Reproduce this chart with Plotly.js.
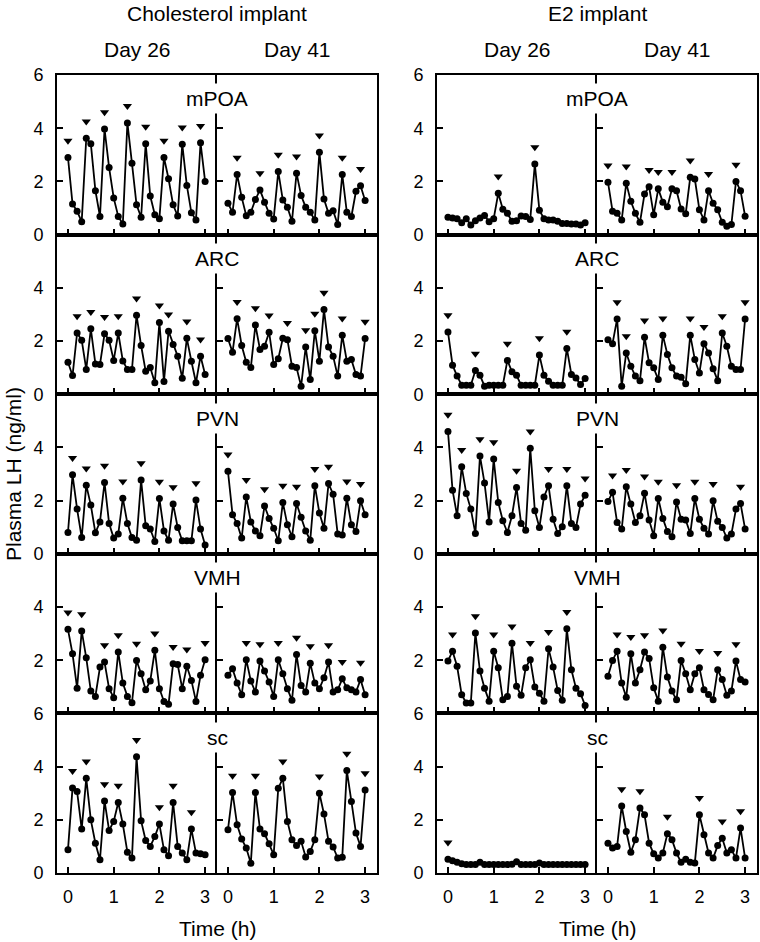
<!DOCTYPE html>
<html><head><meta charset="utf-8">
<script src="https://cdn.plot.ly/plotly-3.0.1.min.js"></script>
<style>html,body{margin:0;padding:0;background:#fff}#chart{width:760px;height:942px}</style>
</head><body><div id="chart"></div>
<script>
// ---- data ----
const TIME_H = [0,0.1,0.2,0.3,0.4,0.5,0.6,0.7,0.8,0.9,1,1.1,1.2,1.3,1.4,1.5,1.6,1.7,1.8,1.9,2,2.1,2.2,2.3,2.4,2.5,2.6,2.7,2.8,2.9,3];
const REGIONS = ["mPOA","ARC","PVN","VMH","sc"];
const GROUPS = ["Cholesterol implant","E2 implant"];
const DAYS = ["Day 26","Day 41"];
const X_TICKS = [0,1,2,3];
const Y_TICKS_BY_ROW = [[0,2,4,6],[0,2,4],[0,2,4],[2,4],[0,2,4,6]];

// Cholesterol implant
const chol26_mPOA = [2.9,1.15,0.88,0.48,3.62,3.42,1.65,0.68,3.97,2.52,1.38,0.68,0.4,4.2,2.68,1.12,0.65,3.42,1.45,0.75,0.6,2.9,2.1,1.12,0.7,3.4,1.85,0.82,0.55,3.45,2.0];
const chol26_mPOA_pulse = [0,4,8,13,17,21,25,29];
const chol41_mPOA = [1.18,0.84,2.26,1.4,0.71,0.84,1.32,1.68,1.22,0.8,0.59,2.37,1.3,1.03,0.5,2.31,1.47,1.03,0.84,0.55,3.1,1.34,0.8,0.9,0.38,2.26,0.84,0.68,1.63,1.84,1.28];
const chol41_mPOA_pulse = [2,7,11,15,20,25,29];
const chol26_ARC = [1.2,0.7,2.3,2.03,0.93,2.46,1.14,1.12,2.27,2.03,1.27,2.3,1.25,0.93,0.93,2.97,1.83,0.86,1.0,0.43,2.7,0.48,2.37,1.87,1.43,0.6,2.1,1.24,0.43,1.43,0.74];
const chol26_ARC_pulse = [2,5,8,11,15,20,22,26,29];
const chol41_ARC = [2.09,1.58,2.84,1.83,1.2,1.0,2.6,1.68,1.8,2.33,1.12,1.33,2.1,2.05,1.05,1.0,0.3,1.77,0.55,2.39,1.24,3.18,1.77,1.43,0.68,2.22,1.24,1.3,0.74,0.68,2.09];
const chol41_ARC_pulse = [2,6,9,13,17,19,21,25,30];
const chol26_PVN = [0.8,2.97,1.68,0.61,2.58,1.83,0.79,1.2,2.68,1.14,0.59,0.74,2.09,1.14,0.61,0.51,2.77,1.05,0.93,0.46,2.08,0.86,0.51,1.87,0.99,0.49,0.49,0.49,2.02,0.93,0.33];
const chol26_PVN_pulse = [1,4,8,12,16,20,23,28];
const chol41_PVN = [3.1,1.47,1.14,0.59,2.14,1.2,0.86,0.68,1.8,1.33,0.96,0.49,1.93,1.09,0.64,1.89,1.37,0.86,0.51,2.56,1.53,0.96,2.64,2.24,0.74,0.71,2.09,1.09,0.84,1.99,1.47];
const chol41_PVN_pulse = [0,4,8,12,15,19,22,26,29];
const chol26_VMH = [3.16,2.24,0.95,3.1,2.09,0.84,0.64,1.74,1.93,0.93,0.59,2.31,1.14,0.64,0.4,1.99,1.49,0.89,1.22,2.37,0.93,0.45,0.34,1.87,1.84,0.93,1.77,1.24,0.45,1.43,2.02];
const chol26_VMH_pulse = [0,3,8,11,15,19,23,26,30];
const chol41_VMH = [1.43,1.68,1.14,0.7,2.02,1.22,0.8,1.97,1.59,1.18,0.64,2.02,1.49,0.93,0.49,2.21,1.05,0.8,1.89,1.14,0.93,1.34,1.93,0.8,0.89,1.3,0.96,0.89,0.8,1.27,0.7];
const chol41_VMH_pulse = [4,7,11,15,18,22,25,29];
const chol26_sc = [0.87,3.2,3.06,1.65,3.56,2.0,1.12,0.5,2.71,1.6,1.94,2.65,1.84,0.78,0.56,4.37,1.96,1.22,1.0,1.37,1.84,0.87,0.65,2.65,1.0,0.75,0.5,1.65,0.75,0.72,0.69];
const chol26_sc_pulse = [1,4,8,11,15,20,23,27];
const chol41_sc = [1.63,3.03,1.81,1.28,0.94,0.37,3.03,1.65,1.48,1.1,0.69,3.19,3.56,1.94,1.25,1.03,1.19,0.6,0.81,1.25,3.0,2.22,1.19,0.98,0.56,0.59,3.85,2.69,1.5,1.0,3.12];
const chol41_sc_pulse = [1,6,12,20,26,30];

// E2 implant
const e226_mPOA = [0.65,0.62,0.6,0.45,0.6,0.36,0.52,0.62,0.72,0.48,0.6,1.55,0.95,0.8,0.5,0.52,0.7,0.68,0.57,2.65,0.92,0.6,0.55,0.55,0.5,0.42,0.42,0.4,0.4,0.36,0.45];
const e226_mPOA_pulse = [11,19];
const e241_mPOA = [1.97,0.88,0.8,0.55,1.93,1.25,0.8,0.46,1.53,1.8,0.75,1.72,1.22,1.05,1.72,1.65,0.96,0.78,2.16,2.09,0.93,0.55,1.65,1.18,0.93,0.46,0.31,0.38,2.0,1.65,0.69];
const e241_mPOA_pulse = [0,4,9,11,14,18,22,28];
const e226_ARC = [2.34,1.09,0.68,0.34,0.34,0.34,0.89,0.71,0.3,0.34,0.34,0.34,0.34,1.27,0.84,0.71,0.34,0.34,0.34,0.34,1.47,0.71,0.49,0.34,0.34,0.34,1.72,0.74,0.61,0.36,0.59];
const e226_ARC_pulse = [0,6,13,20,26];
const e241_ARC = [2.05,1.9,2.83,0.3,1.55,1.05,0.68,0.51,2.14,1.18,0.99,0.55,2.22,1.49,0.99,0.68,0.64,0.39,2.22,1.3,0.8,1.9,1.55,0.96,0.51,2.3,1.8,1.05,0.93,0.93,2.83];
const e241_ARC_pulse = [2,4,8,12,18,21,25,30];
const e226_PVN = [4.6,2.39,1.43,3.27,2.27,1.68,0.76,3.68,2.66,1.2,3.56,1.93,1.24,0.8,1.43,2.49,1.14,0.89,3.97,1.62,0.99,2.14,2.56,1.3,0.76,1.02,2.56,1.14,0.99,1.87,2.2];
const e226_PVN_pulse = [0,3,7,10,15,18,22,26,30];
const e241_PVN = [1.97,2.31,1.18,0.93,2.52,1.87,1.18,1.43,2.28,1.27,0.68,2.08,1.33,0.84,0.64,1.95,1.3,1.27,0.76,2.08,1.3,0.96,0.74,1.99,1.22,0.99,0.59,0.74,1.68,1.89,0.93];
const e241_PVN_pulse = [1,4,8,11,15,19,23,29];
const e226_VMH = [1.97,2.34,1.77,0.7,0.39,0.39,3.02,1.59,0.95,0.46,2.34,1.72,0.51,0.64,2.64,1.02,0.68,1.72,2.02,0.99,0.76,0.46,2.43,1.74,0.86,0.49,3.18,1.64,0.95,0.74,0.3];
const e226_VMH_pulse = [1,6,10,14,18,22,26];
const e241_VMH = [1.4,1.99,2.34,1.14,0.61,2.24,1.14,1.64,2.31,2.06,0.96,0.46,2.49,1.37,0.84,0.51,1.99,1.49,0.89,1.49,1.72,0.89,0.71,0.51,1.64,1.27,0.68,0.84,1.97,1.27,1.18];
const e241_VMH_pulse = [2,5,8,12,16,20,24,28];
const e226_sc = [0.52,0.46,0.4,0.35,0.32,0.32,0.32,0.4,0.32,0.32,0.32,0.32,0.32,0.32,0.33,0.42,0.32,0.32,0.32,0.32,0.38,0.32,0.32,0.32,0.32,0.32,0.32,0.32,0.32,0.32,0.32];
const e226_sc_pulse = [0];
const e241_sc = [1.12,0.94,1.0,2.52,1.56,0.78,1.25,2.44,2.19,1.12,0.72,0.56,0.75,1.48,1.25,0.75,0.4,0.52,0.4,0.38,2.19,1.44,0.75,0.56,1.03,1.31,0.75,0.87,0.56,1.69,0.56];
const e241_sc_pulse = [3,7,13,20,25,29];

// rows = regions, columns = Chol D26, Chol D41, E2 D26, E2 D41
const SERIES = [
  [chol26_mPOA, chol41_mPOA, e226_mPOA, e241_mPOA],
  [chol26_ARC, chol41_ARC, e226_ARC, e241_ARC],
  [chol26_PVN, chol41_PVN, e226_PVN, e241_PVN],
  [chol26_VMH, chol41_VMH, e226_VMH, e241_VMH],
  [chol26_sc, chol41_sc, e226_sc, e241_sc]
];
const PULSES = [
  [chol26_mPOA_pulse, chol41_mPOA_pulse, e226_mPOA_pulse, e241_mPOA_pulse],
  [chol26_ARC_pulse, chol41_ARC_pulse, e226_ARC_pulse, e241_ARC_pulse],
  [chol26_PVN_pulse, chol41_PVN_pulse, e226_PVN_pulse, e241_PVN_pulse],
  [chol26_VMH_pulse, chol41_VMH_pulse, e226_VMH_pulse, e241_VMH_pulse],
  [chol26_sc_pulse, chol41_sc_pulse, e226_sc_pulse, e241_sc_pulse]
];

// ---- layout geometry (pixels) ----
const W = 760, H = 942;
const COL_PX = [[57,217],[217,377],[437,597],[597,757]];
const ROW_TOP = 75, ROW_H = 159.6;
const PULSE_OFFSET = 0.63;
const FONT = 'Liberation Sans, Arial, sans-serif';

const data = [];
const layout = {
  width: W, height: H, margin: {l:0, r:0, t:0, b:0},
  paper_bgcolor: '#fff', plot_bgcolor: 'rgba(0,0,0,0)',
  font: {family: FONT, color: '#000', size: 18},
  showlegend: false, annotations: []
};

for (let r = 0; r < 5; r++) {
  const top = ROW_TOP + r * ROW_H, bot = top + ROW_H;
  for (let c = 0; c < 4; c++) {
    const k = r * 4 + c + 1;
    const xs = k === 1 ? '' : String(k);
    const xa = 'x' + xs, ya = 'y' + xs;
    const vals = SERIES[r][c], pulses = PULSES[r][c];
    data.push({
      x: TIME_H, y: vals, xaxis: xa, yaxis: ya, type: 'scatter',
      mode: 'lines+markers', line: {color: '#000', width: 1.8},
      marker: {size: 7, color: '#000'}, cliponaxis: false, hoverinfo: 'skip'
    });
    data.push({
      x: pulses.map(i => TIME_H[i]), y: pulses.map(i => vals[i] + PULSE_OFFSET),
      xaxis: xa, yaxis: ya, type: 'scatter', mode: 'markers',
      marker: {symbol: 'triangle-down', size: 8, color: '#000'}, cliponaxis: false, hoverinfo: 'skip'
    });
    const left = (c % 2 === 0);
    layout['xaxis' + xs] = {
      domain: [COL_PX[c][0] / W, COL_PX[c][1] / W], range: [-0.24, 3.26], anchor: ya,
      tickvals: X_TICKS, ticktext: X_TICKS.map(String), ticks: 'inside', ticklen: 6, tickwidth: 2, tickcolor: '#000',
      showline: true, linewidth: 2, linecolor: '#000', mirror: true,
      showgrid: false, zeroline: false, showticklabels: r === 4,
      tickfont: {size: 18, family: FONT}, ticklabelstandoff: 6, fixedrange: true
    };
    layout['yaxis' + xs] = {
      domain: [1 - bot / H, 1 - top / H], range: [0, 6], anchor: xa,
      tickvals: left ? Y_TICKS_BY_ROW[r] : [2, 4], ticks: 'inside', ticklen: 6, tickwidth: 2, tickcolor: '#000',
      showline: true, linewidth: 2, linecolor: '#000', mirror: !left,
      showgrid: false, zeroline: false, showticklabels: left,
      tickfont: {size: 18, family: FONT}, ticklabelstandoff: 8, fixedrange: true
    };
  }
  // region label centred on each group's divider
  [217, 597].forEach(xp => {
    layout.annotations.push({
      xref: 'paper', yref: 'paper', x: xp / W, y: 1 - (top + 24) / H,
      text: REGIONS[r], showarrow: false, xanchor: 'center', yanchor: 'middle',
      font: {size: 21, family: FONT}, bgcolor: '#fff', borderpad: 3
    });
  });
}

// group headers, day headers, axis titles
const groupCenters = [217, 597];
GROUPS.forEach((g, i) => {
  layout.annotations.push({xref:'paper', yref:'paper', x: groupCenters[i]/W, y: 1 - 14/H, text: g,
    showarrow:false, xanchor:'center', yanchor:'middle', font:{size:21, family:FONT}});
  layout.annotations.push({xref:'paper', yref:'paper', x: groupCenters[i]/W, y: 1 - 928/H, text: 'Time (h)',
    showarrow:false, xanchor:'center', yanchor:'middle', font:{size:21, family:FONT}});
});
COL_PX.forEach((cp, c) => {
  layout.annotations.push({xref:'paper', yref:'paper', x: (cp[0]+cp[1])/2/W, y: 1 - 50/H, text: DAYS[c % 2],
    showarrow:false, xanchor:'center', yanchor:'middle', font:{size:21, family:FONT}});
});
layout.annotations.push({xref:'paper', yref:'paper', x: 13/W, y: 1 - 474/H, text: 'Plasma LH (ng/ml)',
  showarrow:false, textangle:-90, xanchor:'center', yanchor:'middle', font:{size:21, family:FONT}});

Plotly.newPlot('chart', data, layout, {staticPlot: true, displayModeBar: false});
</script>
</body></html>
